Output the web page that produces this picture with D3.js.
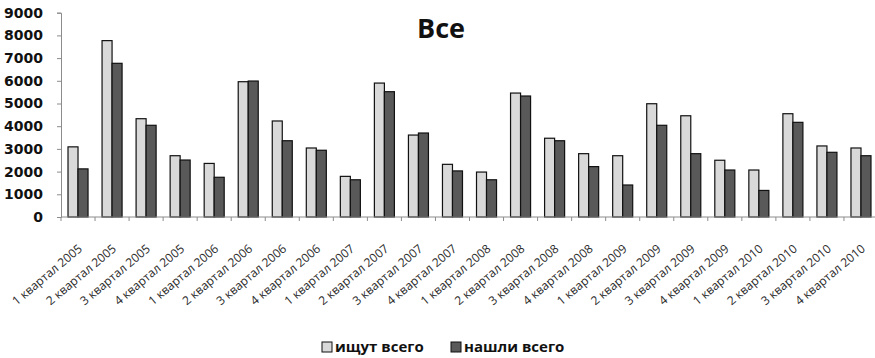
<!DOCTYPE html>
<html>
<head>
<meta charset="utf-8">
<script src="https://cdn.jsdelivr.net/npm/d3@7"></script>
<style>
	body { margin: 0; background: #fff; }
	svg { display: block; }
</style>
</head>
<body>
<div id="chart-area"></div>
<script>

// categories
let quarters = [
	"1 квартал 2005", "2 квартал 2005", "3 квартал 2005", "4 квартал 2005",
	"1 квартал 2006", "2 квартал 2006", "3 квартал 2006", "4 квартал 2006",
	"1 квартал 2007", "2 квартал 2007", "3 квартал 2007", "4 квартал 2007",
	"1 квартал 2008", "2 квартал 2008", "3 квартал 2008", "4 квартал 2008",
	"1 квартал 2009", "2 квартал 2009", "3 квартал 2009", "4 квартал 2009",
	"1 квартал 2010", "2 квартал 2010", "3 квартал 2010", "4 квартал 2010"
];

// series
let seriesNames = ["ищут всего", "нашли всего"];

let searching = [3090, 7770, 4330, 2700, 2360, 5960, 4230, 3040,
	1790, 5900, 3610, 2320, 1980, 5460, 3470, 2790,
	2700, 4990, 4460, 2500, 2070, 4550, 3130, 3040];

let found = [2120, 6770, 4040, 2510, 1750, 5990, 3360, 2940,
	1640, 5520, 3700, 2030, 1640, 5330, 3360, 2220,
	1410, 4040, 2790, 2070, 1170, 4170, 2850, 2700];

// y ticks
let yTicks = [0, 1000, 2000, 3000, 4000, 5000, 6000, 7000, 8000, 9000];

let width = 875,
	height = 358;

let data = quarters.map((q, i) => ({ quarter: q, values: [searching[i], found[i]] }));

drawChart(data);

function drawChart(data){

	let colors = d3.scaleOrdinal().domain(seriesNames).range(["#d9d9d9", "#595959"]);

	let svg = d3.select("#chart-area").append("svg")
		.attr("width", width)
		.attr("height", height);

	// scales
	let x0 = d3.scaleBand()
		.domain(quarters)
		.range([61, 878]);

	let x1 = d3.scaleBand()
		.domain(seriesNames)
		.range([0, x0.bandwidth()])
		.paddingOuter(0.7);

	let y = d3.scaleLinear()
		.domain([0, 9000])
		.range([217, 12.7]);

	// y axis
	let yAxis = d3.axisLeft(y)
		.tickValues(yTicks)
		.tickSize(4)
		.tickPadding(14)
		.tickFormat(d3.format("d"));

	let yg = svg.append("g")
		.attr("class", "y-axis")
		.attr("transform", "translate(61,0)")
		.call(yAxis);

	yg.select(".domain").attr("stroke", "#8c8c8c");
	yg.selectAll(".tick line").attr("stroke", "#8c8c8c");
	yg.selectAll(".tick text")
		.attr("fill", "#111")
		.style("font-family", "DejaVu Sans")
		.style("font-weight", "bold")
		.style("font-size", "14px");

	// bars
	let groups = svg.selectAll(".group").data(data)
		.enter().append("g")
		.attr("class", "group")
		.attr("transform", d => "translate(" + x0(d.quarter) + ",0)");

	groups.selectAll("rect")
		.data(d => d.values.map((v, i) => ({ key: seriesNames[i], value: v })))
		.enter().append("rect")
		.attr("x", d => x1(d.key))
		.attr("y", d => y(d.value))
		.attr("width", x1.bandwidth())
		.attr("height", d => y(0) - y(d.value))
		.attr("fill", d => colors(d.key))
		.attr("stroke", "#111")
		.attr("stroke-width", 1.2);

	// x axis line + boundary ticks
	let xg = svg.append("g").attr("class", "x-axis");

	xg.append("line")
		.attr("x1", x0.range()[0])
		.attr("x2", x0.range()[1])
		.attr("y1", y(0))
		.attr("y2", y(0))
		.attr("stroke", "#8c8c8c");

	xg.selectAll(".xtick").data(quarters)
		.enter().append("line")
		.attr("class", "xtick")
		.attr("x1", d => x0(d))
		.attr("x2", d => x0(d))
		.attr("y1", y(0))
		.attr("y2", y(0) + 4)
		.attr("stroke", "#8c8c8c");

	xg.selectAll(".xlabel").data(quarters)
		.enter().append("text")
		.attr("class", "xlabel")
		.attr("transform", d => "translate(" + (x0(d) + x0.bandwidth() / 2 + 5) + "," + (y(0) + 33) + ") rotate(-40)")
		.attr("text-anchor", "end")
		.attr("fill", "#2a2a2a")
		.style("font-family", "Open Sans")
		.style("font-size", "12px")
		.text(d => d);

	// title
	svg.append("text")
		.attr("x", 441)
		.attr("y", 38)
		.attr("text-anchor", "middle")
		.style("font-family", "Open Sans")
		.style("font-weight", "bold")
		.style("font-size", "27px")
		.attr("fill", "#111")
		.text("Все");

	// legend
	let legendX = [322, 451];
	let legend = svg.selectAll(".legend").data(seriesNames)
		.enter().append("g")
		.attr("class", "legend")
		.attr("transform", (d, i) => "translate(" + legendX[i] + ",342)");

	legend.append("rect")
		.attr("width", 10)
		.attr("height", 10)
		.attr("fill", d => colors(d))
		.attr("stroke", "#111");

	legend.append("text")
		.attr("x", 13)
		.attr("y", 10)
		.attr("fill", "#111")
		.style("font-family", "Open Sans")
		.style("font-weight", "bold")
		.style("font-size", "15px")
		.text(d => d);
}

</script>
</body>
</html>
